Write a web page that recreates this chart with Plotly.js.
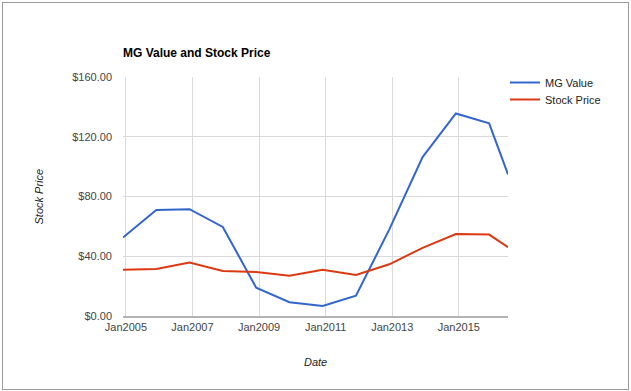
<!DOCTYPE html>
<html>
<head>
<meta charset="utf-8">
<script src="https://cdn.plot.ly/plotly-3.0.1.min.js"></script>
<style>
  html, body { margin: 0; padding: 0; background: #ffffff; }
  #wrap { position: relative; width: 631px; height: 391px; overflow: hidden; }
  #chart { position: absolute; left: 0; top: 0; width: 631px; height: 391px; }
  #frame { position: absolute; left: 2px; top: 2px; width: 625px; height: 386px;
           border: 1px solid #9a9a9a; pointer-events: none; }
</style>
</head>
<body>
<div id="wrap">
  <div id="chart"></div>
  <div id="frame"></div>
</div>
<script>
// ---- data ----
const dates = ["2004-11-30", "2005-11-30", "2006-11-30", "2007-11-30", "2008-11-30",
               "2009-11-30", "2010-11-30", "2011-11-30", "2012-11-30", "2013-11-30",
               "2014-11-30", "2015-11-30", "2016-06-24"];
const mgValue = [52.5, 71.0, 71.5, 59.6, 19.0, 9.2, 6.7, 13.6, 58.0, 106.4, 135.6, 129.0, 94.8];
const stockPrice = [31.0, 31.5, 35.8, 30.2, 29.4, 27.0, 31.0, 27.5, 34.6, 45.6, 54.9, 54.5, 46.0];
const seriesNames = ["MG Value", "Stock Price"];
const titleText = "MG Value and Stock Price";
const xTitle = "Date";
const yTitle = "Stock Price";

const FONT = "Arial, 'Liberation Sans', sans-serif";

const traces = [
  { x: dates, y: mgValue, name: seriesNames[0], type: "scatter", mode: "lines",
    line: { color: "#3366cc", width: 2 }, legend: "legend" },
  { x: dates, y: stockPrice, name: seriesNames[1], type: "scatter", mode: "lines",
    line: { color: "#dc3912", width: 2 }, legend: "legend2" }
];

const legendCommon = {
  x: (505 - 123) / 385, xanchor: "left", yanchor: "top",
  font: { family: FONT, size: 11, color: "#222222" },
  bgcolor: "rgba(0,0,0,0)", borderwidth: 0, itemwidth: 30
};

const layout = {
  width: 631, height: 391,
  margin: { l: 123, r: 123, t: 77, b: 75 },
  paper_bgcolor: "#ffffff", plot_bgcolor: "#ffffff",
  font: { family: FONT, size: 11, color: "#444444" },
  title: { text: "<b>" + titleText + "</b>", font: { family: FONT, size: 12, color: "#000000" },
           xref: "paper", x: 0, xanchor: "left", yref: "container", y: 1 - 53 / 391, yanchor: "middle" },
  xaxis: {
    type: "date",
    range: [dates[0], dates[dates.length - 1]],
    tick0: "2005-01-01", dtick: "M24", tickformat: "%b%Y",
    showgrid: true, gridcolor: "#d9d9d9", gridwidth: 1,
    showline: true, linecolor: "#b3b3b3", linewidth: 2,
    ticks: "", ticklabelstandoff: 0,
    tickfont: { family: FONT, size: 11, color: "#444444" },
    zeroline: false, fixedrange: true
  },
  yaxis: {
    range: [0, 160], dtick: 40, tick0: 0, tickformat: "$,.2f",
    showgrid: true, gridcolor: "#d9d9d9", gridwidth: 1,
    ticks: "", ticklabelstandoff: 10,
    tickfont: { family: FONT, size: 11, color: "#444444" },
    zeroline: false, showline: false, fixedrange: true
  },
  showlegend: true,
  legend: Object.assign({}, legendCommon, { y: 1 + 9 / 239 }),
  legend2: Object.assign({}, legendCommon, { y: 1 - 8 / 239 }),
  annotations: [
    { text: "<i>" + yTitle + "</i>", xref: "paper", yref: "paper",
      x: (38 - 123) / 385, y: 0.5, xanchor: "center", yanchor: "middle",
      textangle: -90, showarrow: false, font: { family: FONT, size: 11, color: "#222222" } },
    { text: "<i>" + xTitle + "</i>", xref: "paper", yref: "paper",
      x: 0.5, y: -(362 - 316) / 239, xanchor: "center", yanchor: "middle",
      showarrow: false, font: { family: FONT, size: 11, color: "#222222" } }
  ]
};

Plotly.newPlot("chart", traces, layout, { displayModeBar: false, staticPlot: true });
</script>
</body>
</html>
